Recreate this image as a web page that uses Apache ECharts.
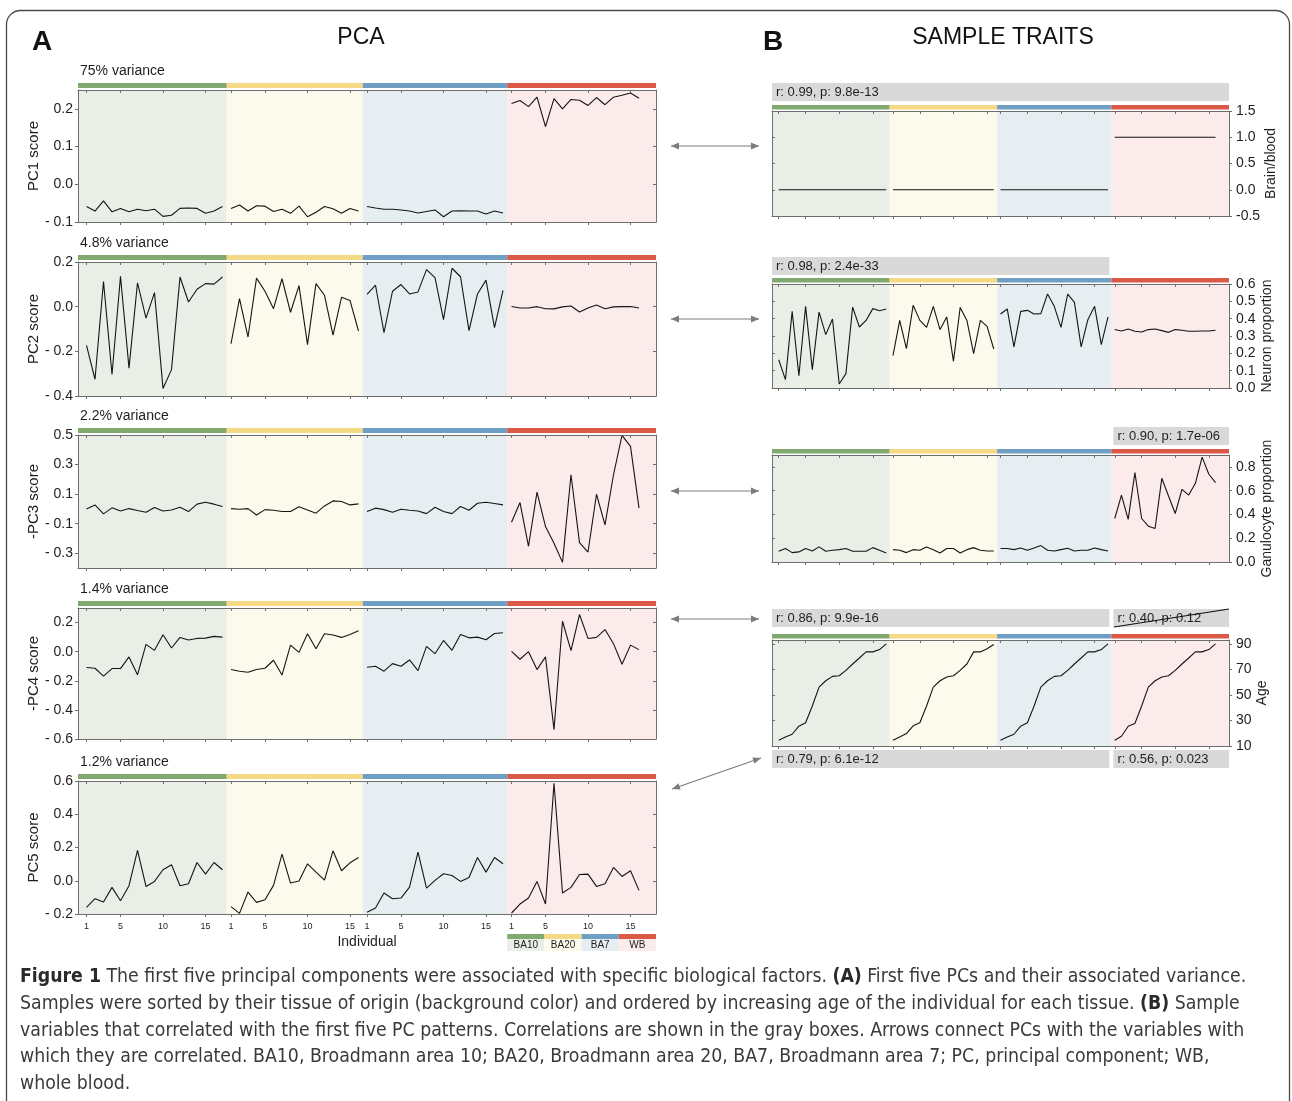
<!DOCTYPE html>
<html>
<head>
<meta charset="utf-8">
<title>PCA and sample traits</title>
<script src="https://cdn.jsdelivr.net/npm/echarts@6/dist/echarts.min.js"></script>
<style>
  html, body { margin: 0; padding: 0; background: #ffffff; }
  #chart { width: 1292px; height: 1101px; }
</style>
</head>
<body>
<div id="chart"></div>
<script>
// ---- tissues (samples sorted by tissue, then by age) ----
const tissues = ['BA10', 'BA20', 'BA7', 'WB'];
const tissueSizes = [17, 16, 17, 16];
const tissueStrip = ['#7fa96e', '#f5d985', '#6f9fc4', '#db5a47'];
const tissueShade = ['#e9efe6', '#fcfaec', '#e6eef2', '#fbebea'];
const individualTicks = [1, 5, 10, 15];

// ---- principal components ----
const pcNames = ['PC1 score', 'PC2 score', '-PC3 score', '-PC4 score', 'PC5 score'];
const pcVariance = ['75% variance', '4.8% variance', '2.2% variance', '1.4% variance', '1.2% variance'];
const pcTicks = [
  [-0.1, 0, 0.1, 0.2],
  [-0.4, -0.2, 0, 0.2],
  [-0.3, -0.1, 0.1, 0.3, 0.5],
  [-0.6, -0.4, -0.2, 0, 0.2],
  [-0.2, 0, 0.2, 0.4, 0.6]
];
const pcRanges = [[-0.1, 0.25], [-0.4, 0.2], [-0.4, 0.5], [-0.6, 0.3], [-0.2, 0.6]];

const pc1Scores = [
  [-0.059, -0.071, -0.044, -0.073, -0.064, -0.073, -0.066, -0.070, -0.066, -0.085, -0.082, -0.064, -0.063, -0.064, -0.077, -0.071, -0.059],
  [-0.064, -0.055, -0.071, -0.057, -0.058, -0.072, -0.066, -0.077, -0.058, -0.086, -0.074, -0.059, -0.065, -0.077, -0.064, -0.071],
  [-0.059, -0.063, -0.066, -0.066, -0.068, -0.071, -0.076, -0.072, -0.068, -0.086, -0.071, -0.070, -0.071, -0.071, -0.079, -0.071, -0.076],
  [0.214, 0.222, 0.206, 0.231, 0.153, 0.227, 0.200, 0.225, 0.223, 0.209, 0.230, 0.211, 0.231, 0.236, 0.242, 0.228]
];
const pc2Scores = [
  [-0.173, -0.325, 0.113, -0.304, 0.136, -0.275, 0.107, -0.051, 0.063, -0.366, -0.282, 0.133, 0.021, 0.078, 0.103, 0.101, 0.133],
  [-0.166, 0.036, -0.136, 0.128, 0.069, -0.009, 0.125, -0.025, 0.094, -0.170, 0.103, 0.051, -0.127, 0.042, 0.028, -0.109],
  [0.055, 0.096, -0.116, 0.069, 0.099, 0.057, 0.066, 0.166, 0.130, -0.058, 0.172, 0.134, -0.107, 0.057, 0.119, -0.094, 0.073],
  [0.001, -0.006, -0.006, 0.000, -0.009, -0.010, -0.001, 0.003, -0.024, -0.006, 0.007, -0.009, -0.001, 0.000, 0.001, -0.006]
];
const pc3Scores = [
  [0.000, 0.027, -0.034, 0.007, -0.014, 0.002, -0.011, -0.023, 0.009, -0.014, -0.007, 0.011, -0.018, 0.032, 0.045, 0.032, 0.016],
  [0.002, -0.002, 0.002, -0.041, -0.005, -0.009, -0.018, -0.018, 0.014, -0.007, -0.029, 0.020, 0.054, 0.050, 0.027, 0.034],
  [-0.018, 0.005, -0.005, -0.023, -0.002, -0.009, -0.014, -0.032, 0.011, -0.018, -0.032, 0.016, -0.009, 0.038, 0.045, 0.036, 0.027],
  [-0.090, 0.043, -0.253, 0.113, -0.120, -0.233, -0.362, 0.231, -0.228, -0.292, 0.099, -0.108, 0.231, 0.497, 0.423, 0.005]
];
const pc4Scores = [
  [-0.109, -0.114, -0.168, -0.116, -0.116, -0.036, -0.159, 0.050, 0.009, 0.116, 0.025, 0.098, 0.080, 0.091, 0.093, 0.105, 0.100],
  [-0.123, -0.134, -0.141, -0.123, -0.114, -0.059, -0.161, 0.045, -0.005, 0.123, 0.020, 0.123, 0.114, 0.098, 0.118, 0.143],
  [-0.107, -0.100, -0.134, -0.082, -0.100, -0.057, -0.130, 0.036, -0.014, 0.077, 0.009, 0.118, 0.095, 0.100, 0.082, 0.125, 0.130],
  [0.002, -0.052, 0.000, -0.123, -0.036, -0.536, 0.209, 0.007, 0.255, 0.091, 0.098, 0.152, 0.055, -0.086, 0.045, 0.014]
];
const pc5Scores = [
  [-0.160, -0.108, -0.128, -0.040, -0.120, -0.030, 0.182, -0.034, -0.004, 0.066, 0.096, -0.030, -0.018, 0.110, 0.040, 0.110, 0.066],
  [-0.156, -0.196, -0.068, -0.130, -0.114, -0.028, 0.160, -0.014, -0.002, 0.102, 0.052, 0.004, 0.180, 0.060, 0.108, 0.140],
  [-0.190, -0.164, -0.074, -0.108, -0.104, -0.038, 0.172, -0.044, 0.002, 0.042, 0.032, -0.004, 0.020, 0.140, 0.052, 0.140, 0.102],
  [-0.194, -0.140, -0.104, -0.004, -0.140, 0.586, -0.074, -0.040, 0.038, 0.040, -0.034, -0.018, 0.080, 0.026, 0.060, -0.058]
];

// ---- sample traits ----
const traitNames = ['Brain/blood', 'Neuron proportion', 'Ganulocyte proportion', 'Age'];
const traitTicks = [
  [-0.5, 0, 0.5, 1, 1.5],
  [0, 0.1, 0.2, 0.3, 0.4, 0.5, 0.6],
  [0, 0.2, 0.4, 0.6, 0.8],
  [10, 30, 50, 70, 90]
];
const traitRanges = [[-0.5, 1.5], [0, 0.6], [0, 0.9], [10, 93]];

const brainBlood = [
  [0, 0, 0, 0, 0, 0, 0, 0, 0, 0, 0, 0, 0, 0, 0, 0, 0],
  [0, 0, 0, 0, 0, 0, 0, 0, 0, 0, 0, 0, 0, 0, 0, 0],
  [0, 0, 0, 0, 0, 0, 0, 0, 0, 0, 0, 0, 0, 0, 0, 0, 0],
  [1, 1, 1, 1, 1, 1, 1, 1, 1, 1, 1, 1, 1, 1, 1, 1]
];
const neuronProportion = [
  [0.163, 0.048, 0.442, 0.071, 0.471, 0.106, 0.438, 0.308, 0.398, 0.023, 0.083, 0.467, 0.352, 0.390, 0.458, 0.446, 0.456],
  [0.187, 0.390, 0.227, 0.477, 0.390, 0.350, 0.471, 0.337, 0.410, 0.154, 0.465, 0.390, 0.198, 0.390, 0.356, 0.225],
  [0.427, 0.456, 0.237, 0.442, 0.448, 0.427, 0.429, 0.542, 0.471, 0.350, 0.542, 0.494, 0.237, 0.394, 0.471, 0.250, 0.410],
  [0.338, 0.329, 0.340, 0.327, 0.323, 0.337, 0.340, 0.331, 0.321, 0.337, 0.333, 0.327, 0.327, 0.329, 0.329, 0.333]
];
const granulocyteProportion = [
  [0.090, 0.113, 0.079, 0.085, 0.113, 0.093, 0.127, 0.090, 0.099, 0.104, 0.113, 0.090, 0.090, 0.090, 0.121, 0.099, 0.076],
  [0.104, 0.099, 0.079, 0.104, 0.099, 0.127, 0.104, 0.076, 0.113, 0.113, 0.076, 0.104, 0.121, 0.099, 0.093, 0.093],
  [0.113, 0.113, 0.104, 0.118, 0.099, 0.118, 0.138, 0.099, 0.093, 0.104, 0.115, 0.093, 0.099, 0.099, 0.118, 0.104, 0.093],
  [0.366, 0.563, 0.358, 0.752, 0.366, 0.301, 0.282, 0.704, 0.555, 0.408, 0.611, 0.563, 0.662, 0.882, 0.738, 0.668]
];
const age = [
  [14.5, 17.1, 19.2, 25.5, 28.2, 41.3, 56.1, 61.1, 64.5, 65.0, 69.2, 74.2, 78.9, 83.7, 83.7, 85.5, 90.0],
  [14.5, 17.1, 19.7, 25.8, 28.2, 41.3, 56.1, 61.1, 64.0, 65.0, 69.2, 74.2, 83.7, 83.7, 86.1, 89.5],
  [14.5, 17.1, 19.2, 25.5, 28.2, 41.3, 56.1, 61.1, 64.5, 65.0, 69.2, 74.2, 78.9, 83.7, 83.7, 85.5, 90.0],
  [14.5, 17.6, 25.5, 27.6, 41.3, 56.1, 61.1, 64.0, 65.0, 69.2, 74.2, 78.9, 83.7, 83.7, 85.5, 90.0]
];

// correlation boxes: tissue span [from, to]
const corrAbove = [
  [{ text: 'r: 0.99, p: 9.8e-13', from: 0, to: 3 }],
  [{ text: 'r: 0.98, p: 2.4e-33', from: 0, to: 2 }],
  [{ text: 'r: 0.90, p: 1.7e-06', from: 3, to: 3 }],
  [{ text: 'r: 0.86, p: 9.9e-16', from: 0, to: 2 }, { text: 'r: 0.40, p: 0.12', from: 3, to: 3, struck: true }]
];
const corrBelowAge = [
  { text: 'r: 0.79, p: 6.1e-12', from: 0, to: 2 },
  { text: 'r: 0.56, p: 0.023', from: 3, to: 3 }
];

// ---- shared x scale: samples laid out one after another ----
const xMin = 0, xMax = 68;
const starts = [];
{ let s = 1; tissueSizes.forEach(n => { starts.push(s); s += n; }); }
const bounds = tissues.map((t, i) => (i === 0 ? xMin : starts[i] - 0.5)).concat([xMax]);
const tickPos = [];
const tickText = {};
starts.forEach(s => individualTicks.forEach(t => { tickPos.push(s + t - 1); tickText[s + t - 1] = String(t); }));

const FONT = '"Liberation Sans", Arial, Helvetica, sans-serif';
const INK = '#1e1e1e';
const FRAME = '#6e6e6e';

const grid = [], xAxis = [], yAxis = [], series = [], graphic = [];

const fmtPC = v => (v < 0 ? '- ' + Math.abs(v).toFixed(1) : v.toFixed(1));
const fmt1 = v => v.toFixed(1);
const fmt0 = v => String(Math.round(v));

// thin grid used for colour strips and grey correlation boxes
function addBandGrid(left, top, width, height, areas, markLine) {
  const gi = grid.length;
  grid.push({ left, top, width, height });
  const xi = xAxis.length, yi = yAxis.length;
  xAxis.push({ gridIndex: gi, type: 'value', min: xMin, max: xMax, show: false });
  yAxis.push({ gridIndex: gi, type: 'value', min: 0, max: 1, show: false });
  const s = {
    type: 'line', xAxisIndex: xi, yAxisIndex: yi, data: [[xMin, 0]], symbol: 'none',
    lineStyle: { opacity: 0 }, silent: true, z: 1, animation: false,
    markArea: { silent: true, data: areas }
  };
  if (markLine) s.markLine = markLine;
  series.push(s);
}

function stripAreas() {
  return tissues.map((t, i) => [{ xAxis: bounds[i], itemStyle: { color: tissueStrip[i] } }, { xAxis: bounds[i + 1] }]);
}

function boxAreas(list) {
  const gap = 0.3;
  return list.map(b => [{
    name: b.text,
    xAxis: bounds[b.from] + (b.from > 0 ? gap : 0),
    itemStyle: { color: '#d9d9d9' },
    label: { show: true, position: 'insideLeft', distance: 4, color: INK, fontSize: 13, fontFamily: FONT, formatter: '{b}' }
  }, { xAxis: bounds[b.to + 1] - (b.to < tissues.length - 1 ? gap : 0) }]);
}

function addPlot(cfg) {
  const gi = grid.length;
  grid.push({ left: cfg.left, top: cfg.top, width: cfg.width, height: cfg.height });
  const line = { show: true, onZero: false, lineStyle: { color: FRAME, width: 1 } };
  const xi = xAxis.length;
  xAxis.push({
    gridIndex: gi, type: 'value', min: xMin, max: xMax, position: 'bottom', z: 10,
    axisLine: line,
    axisTick: { show: true, inside: false, length: 3, customValues: tickPos, lineStyle: { color: FRAME } },
    axisLabel: {
      show: !!cfg.xLabels, customValues: tickPos, formatter: v => tickText[Math.round(v)] || '',
      fontSize: 9, margin: 8, color: INK, fontFamily: FONT
    },
    splitLine: { show: false },
    name: cfg.xName || '', nameLocation: 'middle', nameGap: 21,
    nameTextStyle: { fontSize: 14, color: INK, fontFamily: FONT }
  });
  xAxis.push({
    gridIndex: gi, type: 'value', min: xMin, max: xMax, position: 'top', z: 10,
    axisLine: line,
    axisTick: { show: true, inside: true, length: 3, customValues: tickPos, lineStyle: { color: FRAME } },
    axisLabel: { show: false }, splitLine: { show: false }
  });
  const yi = yAxis.length;
  const other = cfg.side === 'left' ? 'right' : 'left';
  yAxis.push({
    gridIndex: gi, type: 'value', min: cfg.range[0], max: cfg.range[1], position: cfg.side, z: 10,
    axisLine: line,
    axisTick: { show: true, inside: false, length: 3, customValues: cfg.ticks, lineStyle: { color: FRAME } },
    axisLabel: { customValues: cfg.ticks, formatter: cfg.fmt, fontSize: 14, color: INK, fontFamily: FONT, margin: cfg.labelMargin },
    splitLine: { show: false },
    name: cfg.name, nameLocation: 'middle', nameRotate: 90, nameGap: cfg.nameGap,
    nameTextStyle: { fontSize: cfg.nameSize, color: INK, fontFamily: FONT }
  });
  yAxis.push({
    gridIndex: gi, type: 'value', min: cfg.range[0], max: cfg.range[1], position: other, z: 10,
    axisLine: line,
    axisTick: { show: true, inside: true, length: 3, customValues: cfg.ticks, lineStyle: { color: FRAME } },
    axisLabel: { show: false }, splitLine: { show: false }
  });
  // tissue background shading
  series.push({
    type: 'line', xAxisIndex: xi, yAxisIndex: yi, data: [[xMin, cfg.range[0]]], symbol: 'none',
    lineStyle: { opacity: 0 }, silent: true, z: 1, animation: false,
    markArea: {
      silent: true,
      data: tissues.map((t, i) => [{ xAxis: bounds[i], itemStyle: { color: tissueShade[i] } }, { xAxis: bounds[i + 1] }])
    }
  });
  cfg.values.forEach((vals, g) => {
    series.push({
      type: 'line', name: tissues[g], xAxisIndex: xi, yAxisIndex: yi,
      data: vals.map((v, i) => [starts[g] + i, v]),
      symbol: 'none', showSymbol: false, silent: true, z: 3, animation: false,
      lineStyle: { color: '#151515', width: 1.1 }
    });
  });
}

// ---- panel A: principal components ----
const LEFT_X = 78, LEFT_W = 578;
const pcTop = [90, 262, 435, 608, 781];
const pcHeight = [132, 134, 133, 131, 133];
const pcScores = [pc1Scores, pc2Scores, pc3Scores, pc4Scores, pc5Scores];

pcScores.forEach((vals, k) => {
  const last = k === pcScores.length - 1;
  addBandGrid(LEFT_X, pcTop[k] - 7, LEFT_W, 5, stripAreas());
  addPlot({
    left: LEFT_X, top: pcTop[k], width: LEFT_W, height: pcHeight[k],
    range: pcRanges[k], ticks: pcTicks[k], fmt: fmtPC, side: 'left', labelMargin: 5,
    name: pcNames[k], nameGap: 35, nameSize: 15, values: vals,
    xLabels: last, xName: last ? 'Individual' : ''
  });
  graphic.push({
    type: 'text', left: LEFT_X + 2, top: pcTop[k] - 26,
    style: { text: pcVariance[k], fill: INK, font: '14px ' + FONT }
  });
});

// ---- panel B: sample traits ----
const RIGHT_X = 772, RIGHT_W = 457;
const trTop = [111, 284, 455, 640];
const trHeight = [105, 104, 107, 106];
const boxTop = [83, 257, 427, 609];
const traitValues = [brainBlood, neuronProportion, granulocyteProportion, age];
const traitFmt = [fmt1, fmt1, fmt1, fmt0];

traitValues.forEach((vals, k) => {
  const struck = corrAbove[k].filter(b => b.struck);
  const strike = struck.length ? {
    silent: true, symbol: 'none', animation: false,
    lineStyle: { color: '#111', width: 1.2, type: 'solid' },
    label: { show: false },
    data: struck.map(b => [{ coord: [bounds[b.from] + 0.4, 0] }, { coord: [bounds[b.to + 1], 1] }])
  } : null;
  addBandGrid(RIGHT_X, boxTop[k], RIGHT_W, 18, boxAreas(corrAbove[k]), strike);
  addBandGrid(RIGHT_X, trTop[k] - 6, RIGHT_W, 4.5, stripAreas());
  addPlot({
    left: RIGHT_X, top: trTop[k], width: RIGHT_W, height: trHeight[k],
    range: traitRanges[k], ticks: traitTicks[k], fmt: traitFmt[k], side: 'right', labelMargin: 7,
    name: traitNames[k], nameGap: k === 3 ? 25 : 31, nameSize: 14, values: vals, xLabels: false
  });
});
addBandGrid(RIGHT_X, 750, RIGHT_W, 18, boxAreas(corrBelowAge));

// ---- tissue key under panel A ----
{
  const px = v => LEFT_X + (v - xMin) / (xMax - xMin) * LEFT_W;
  const x0 = px(bounds[tissues.length - 1]), x1 = px(xMax);
  const cw = (x1 - x0) / tissues.length;
  tissues.forEach((t, i) => {
    graphic.push({ type: 'rect', shape: { x: x0 + i * cw, y: 934, width: cw, height: 5 }, style: { fill: tissueStrip[i] } });
    graphic.push({ type: 'rect', shape: { x: x0 + i * cw, y: 939, width: cw, height: 12 }, style: { fill: tissueShade[i] } });
    graphic.push({
      type: 'text', x: x0 + (i + 0.5) * cw, y: 945.5,
      style: { text: t, fill: INK, font: '10px ' + FONT, textAlign: 'center', textVerticalAlign: 'middle' }
    });
  });
}

// ---- arrows linking PCs to traits ----
function arrow(x1, y1, x2, y2) {
  const col = '#7c7c7c';
  const ang = Math.atan2(y2 - y1, x2 - x1);
  const head = (x, y, a) => {
    const L = 8, W = 3.4;
    const bx = x - L * Math.cos(a), by = y - L * Math.sin(a);
    return [[x, y], [bx + W * Math.sin(a), by - W * Math.cos(a)], [bx - W * Math.sin(a), by + W * Math.cos(a)]];
  };
  graphic.push({ type: 'line', shape: { x1, y1, x2, y2 }, style: { stroke: col, lineWidth: 1.2 } });
  graphic.push({ type: 'polygon', shape: { points: head(x2, y2, ang) }, style: { fill: col } });
  graphic.push({ type: 'polygon', shape: { points: head(x1, y1, ang + Math.PI) }, style: { fill: col } });
}
arrow(671, 146, 759, 146);
arrow(671, 319, 759, 319);
arrow(671, 491, 759, 491);
arrow(671, 619, 759, 619);
arrow(672, 789, 761, 758);

// ---- headings ----
graphic.push({ type: 'text', x: 42, y: 42, style: { text: 'A', fill: '#111', font: 'bold 28px ' + FONT, textAlign: 'center', textVerticalAlign: 'middle' } });
graphic.push({ type: 'text', x: 361, y: 38, style: { text: 'PCA', fill: '#111', font: '23px ' + FONT, textAlign: 'center', textVerticalAlign: 'middle' } });
graphic.push({ type: 'text', x: 773, y: 42, style: { text: 'B', fill: '#111', font: 'bold 28px ' + FONT, textAlign: 'center', textVerticalAlign: 'middle' } });
graphic.push({ type: 'text', x: 1003, y: 38, style: { text: 'SAMPLE TRAITS', fill: '#111', font: '23px ' + FONT, textAlign: 'center', textVerticalAlign: 'middle' } });

// ---- figure frame ----
graphic.push({ type: 'rect', shape: { x: 6.5, y: 10.5, width: 1283, height: 1200, r: 14 }, style: { fill: null, stroke: '#4a4a4a', lineWidth: 1.3 }, z: 0 });

// ---- caption ----
const CAP_FONT = '"Liberation Sans Narrow", "DejaVu Sans Condensed", "Liberation Sans", sans-serif';
const captionLines = [
  '{b|Figure 1} The first five principal components were associated with specific biological factors. {b|(A)} First five PCs and their associated variance.',
  'Samples were sorted by their tissue of origin (background color) and ordered by increasing age of the individual for each tissue. {b|(B)} Sample',
  'variables that correlated with the first five PC patterns. Correlations are shown in the gray boxes. Arrows connect PCs with the variables with',
  'which they are correlated. BA10, Broadmann area 10; BA20, Broadmann area 20, BA7, Broadmann area 7; PC, principal component; WB,',
  'whole blood.'
];
captionLines.forEach((txt, i) => {
  graphic.push({
    type: 'text', x: 20, y: 977 + i * 26.8,
    style: {
      text: txt, fill: '#3a3a3a', font: '19.3px ' + CAP_FONT, textVerticalAlign: 'middle',
      rich: { b: { fontWeight: 'bold', fontSize: 19.3, fontFamily: CAP_FONT, fill: '#2a2a2a' } }
    }
  });
});

const chart = echarts.init(document.getElementById('chart'), null, { renderer: 'canvas' });
chart.setOption({
  animation: false,
  backgroundColor: '#ffffff',
  textStyle: { fontFamily: FONT },
  grid, xAxis, yAxis, series, graphic
});
</script>
</body>
</html>
